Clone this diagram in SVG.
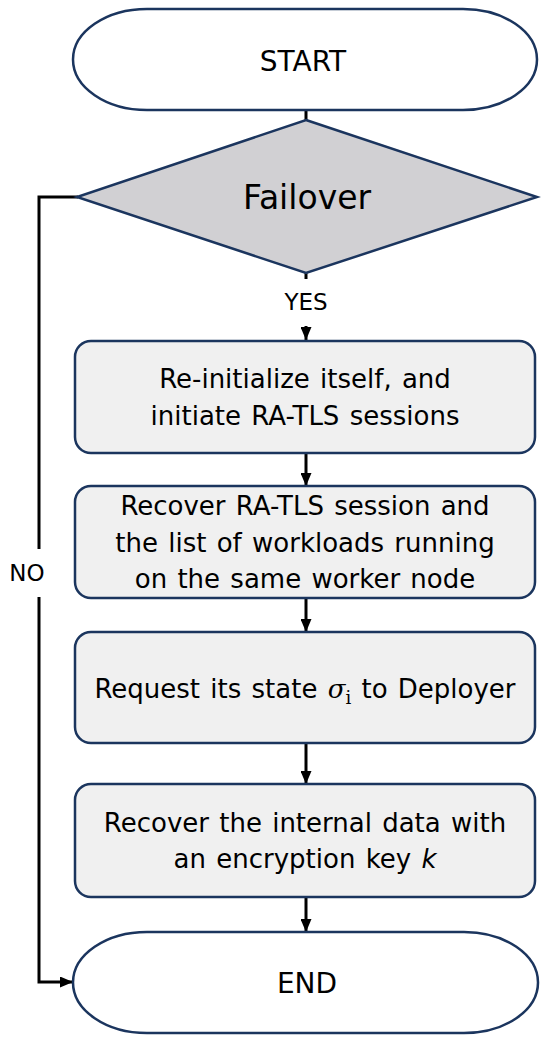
<svg xmlns="http://www.w3.org/2000/svg" width="550" height="1043" viewBox="0 0 550 1043">
  <style>
    .term { fill: #ffffff; stroke: #1b355e; stroke-width: 2.5; }
    .proc { fill: #f0f0f0; stroke: #1b355e; stroke-width: 2.5; }
    .dec { fill: #d1d0d3; stroke: #1b355e; stroke-width: 2.5; }
    .conn { fill: none; stroke: #000000; stroke-width: 3; }
    .t { font-family: "DejaVu Sans", "Liberation Sans", sans-serif; fill: #000000; text-anchor: middle; }
    .b { font-size: 26px; word-spacing: 2px; }
    .m { font-family: "DejaVu Serif", "Liberation Serif", serif; }
  </style>
  <defs>
    <marker id="arrow" markerUnits="userSpaceOnUse" markerWidth="13" markerHeight="11" refX="13" refY="5.5" orient="auto">
      <path d="M0,0 L13,5.5 L0,11 Z" fill="#000000"/>
    </marker>
  </defs>

  <g id="connectors">
    <path class="conn" d="M306,110 V121"/>
    <path class="conn" d="M306,273 V279"/>
    <path class="conn" d="M306,326 V340" marker-end="url(#arrow)"/>
    <path class="conn" d="M306,453 V486" marker-end="url(#arrow)"/>
    <path class="conn" d="M306,598 V632" marker-end="url(#arrow)"/>
    <path class="conn" d="M306,743 V784" marker-end="url(#arrow)"/>
    <path class="conn" d="M306,897 V932" marker-end="url(#arrow)"/>
    <path class="conn" d="M78,197 H39 V549 M39,597 V982 H73" marker-end="url(#arrow)"/>
    <text class="t" x="306" y="310" font-size="23">YES</text>
    <text class="t" x="27" y="581" font-size="23">NO</text>
  </g>

  <g id="start">
    <path class="term" d="M147,9 H463 A74,50.5 0 0 1 463,110 H147 A74,50.5 0 0 1 147,9 Z"/>
    <text class="t" x="303" y="71" font-size="28">START</text>
  </g>

  <g id="failover">
    <polygon class="dec" points="306,120 537,197 306,273 77,197"/>
    <text class="t" x="307" y="209" font-size="33">Failover</text>
  </g>

  <g id="reinit">
    <rect class="proc" x="75" y="341" width="460" height="112" rx="16"/>
    <text class="t b" x="305" y="388">Re-initialize itself, and</text>
    <text class="t b" x="305" y="425">initiate RA-TLS sessions</text>
  </g>

  <g id="recover-session">
    <rect class="proc" x="75" y="486" width="460" height="112" rx="16"/>
    <text class="t b" x="305" y="515">Recover RA-TLS session and</text>
    <text class="t b" x="305" y="552">the list of workloads running</text>
    <text class="t b" x="305" y="588">on the same worker node</text>
  </g>

  <g id="request-state">
    <rect class="proc" x="75" y="632" width="460" height="111" rx="16"/>
    <text class="t b" x="305" y="698">Request its state <tspan class="m" font-style="italic">σ</tspan><tspan class="m" font-size="18" dy="6">i</tspan><tspan dy="-6"> to Deployer</tspan></text>
  </g>

  <g id="recover-data">
    <rect class="proc" x="75" y="784" width="460" height="113" rx="16"/>
    <text class="t b" x="305" y="832">Recover the internal data with</text>
    <text class="t b" x="305" y="868">an encryption key <tspan font-style="italic">k</tspan></text>
  </g>

  <g id="end">
    <path class="term" d="M147,932 H464 A74,50.5 0 0 1 464,1033 H147 A74,50.5 0 0 1 147,932 Z"/>
    <text class="t" x="307" y="993" font-size="28">END</text>
  </g>
</svg>
